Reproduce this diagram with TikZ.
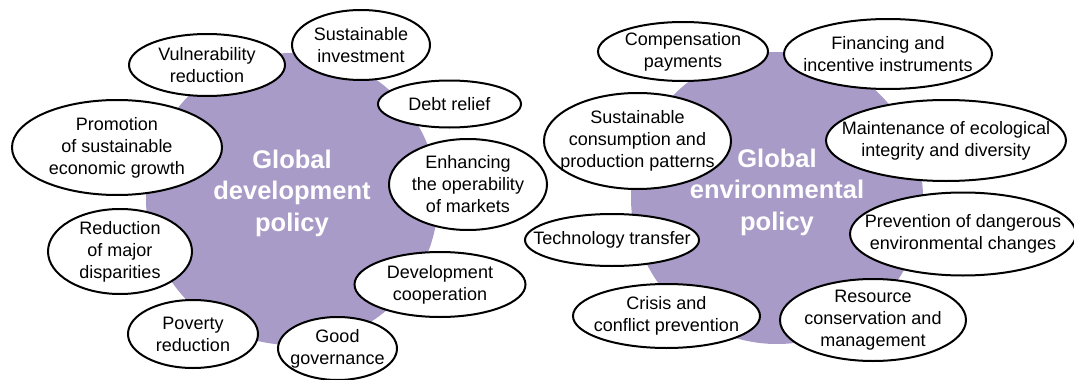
\documentclass[tikz,border=0pt]{standalone}
\usepackage{fontspec}
\setmainfont{Liberation Sans}
\usetikzlibrary{shapes.geometric}
\definecolor{hub}{RGB}{169,155,199}
\begin{document}
\begin{tikzpicture}[x=1pt,y=-1pt,
 leaf/.style={ellipse, draw=black, line width=2pt, fill=white, inner sep=0pt},
 leaftext/.style={align=center, inner sep=0pt, font=\fontsize{18}{22}\selectfont},
 hubc/.style={circle, fill=hub, inner sep=0pt},
 hubt/.style={text=white, font=\fontsize{25.5}{31.5}\selectfont\bfseries, align=center}]
\useasboundingbox (0,0) rectangle (1074,380);
\newcommand{\leafat}[6]{%
  \node[leaf, minimum width=#3, minimum height=#4] (#1) at #2 {};
  \node[leaftext] (#1t) at (#1.center) {#6};}
% hubs
\node[hubc, minimum size=292pt] (dev) at (292,199) {};
\node[hubc, minimum size=292pt] (env) at (777,198) {};
% development leaves
\leafat{vul}{(207,65)}{156pt}{62pt}{}{Vulnerability\\reduction}
\leafat{sinv}{(361,45)}{138pt}{70pt}{}{Sustainable\\investment}
\leafat{debt}{(449.5,104)}{143pt}{47pt}{}{Debt relief}
\leafat{prom}{(117,147.5)}{210pt}{95pt}{}{Promotion\\of sustainable\\economic growth}
\leafat{enh}{(468,184.5)}{158pt}{91pt}{}{Enhancing\\the operability\\of markets}
\leafat{red}{(120,251.5)}{144pt}{85pt}{}{Reduction\\of major\\disparities}
\leafat{dcoop}{(440,284.5)}{171pt}{65pt}{}{Development\\cooperation}
\leafat{pov}{(193,334)}{130pt}{68pt}{}{Poverty\\reduction}
\leafat{gov}{(337.5,348.5)}{119pt}{63pt}{}{Good\\governance}
% environmental leaves
\leafat{comp}{(683,51.5)}{170pt}{59pt}{}{Compensation\\payments}
\leafat{fin}{(888,54)}{208pt}{70pt}{}{Financing and\\incentive instruments}
\leafat{scp}{(637.5,141)}{187pt}{96pt}{}{Sustainable\\consumption and\\production patterns}
\leafat{maint}{(946,140.5)}{240pt}{81pt}{}{Maintenance of ecological\\integrity and diversity}
\leafat{tech}{(612,240)}{174pt}{52pt}{}{Technology transfer}
\leafat{prev}{(963,234)}{226pt}{83pt}{}{Prevention of dangerous\\environmental changes}
\leafat{crisis}{(666.5,316)}{187pt}{64pt}{}{Crisis and\\conflict prevention}
\leafat{res}{(873,320)}{186pt}{82pt}{}{Resource\\conservation and\\management}
% hub titles
\node[hubt] (devt) at (dev.center) [yshift=6pt] {Global\\development\\policy};
\node[hubt] (envt) at (env.center) [yshift=6pt] {Global\\environmental\\policy};
\end{tikzpicture}
\end{document}
